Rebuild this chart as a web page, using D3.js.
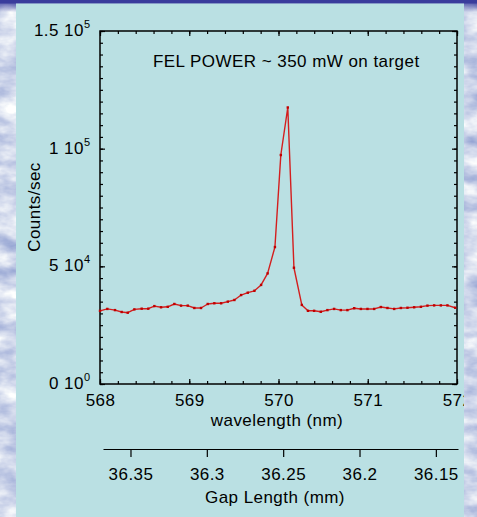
<!DOCTYPE html>
<html>
<head>
<meta charset="utf-8">
<script src="https://cdn.jsdelivr.net/npm/d3@7"></script>
<style>
  body { margin: 0; }
  svg text {
    font-family: "Liberation Sans", Arial, Helvetica, sans-serif;
    font-size: 17px;
    letter-spacing: 0.45px;
    fill: #000;
  }
</style>
</head>
<body>
<div id="container"></div>
<script>
// Data
const wavelength = [
  568.0, 568.082, 568.168, 568.243, 568.311, 568.385, 568.467, 568.541, 568.609,
  568.684, 568.759, 568.833, 568.908, 568.983, 569.057, 569.132, 569.207, 569.281,
  569.357, 569.432, 569.506, 569.581, 569.656, 569.73, 569.805, 569.878, 569.96,
  570.026, 570.104, 570.173, 570.261, 570.33, 570.399, 570.474, 570.548, 570.623,
  570.698, 570.772, 570.848, 570.923, 570.997, 571.072, 571.147, 571.221, 571.296,
  571.371, 571.445, 571.52, 571.595, 571.669, 571.744, 571.819, 571.893, 571.98
];
const counts = [
  31100, 31900, 31400, 30600, 30300, 31700, 32000, 32000, 33100,
  32600, 32800, 34000, 33300, 33300, 32300, 32300, 34000, 34300,
  34300, 35000, 35700, 37800, 38800, 39600, 42100, 47000, 58200,
  97300, 117500, 49400, 33600, 31100, 31100, 30700, 31400, 31900,
  31400, 31400, 32200, 31900, 31900, 31900, 32700, 32300, 31900,
  32300, 32400, 32600, 32800, 33300, 33400, 33400, 33400, 32400
];
const wavelengthTicks = [568, 569, 570, 571, 572];
const countTicks = [0, 50000, 100000, 150000];
const countMantissa = ["0", "5", "1", "1.5"];
const countExponent = ["0", "4", "5", "5"];
const gapTicks = [36.35, 36.3, 36.25, 36.2, 36.15];
const gapTickLabels = ["36.35", "36.3", "36.25", "36.2", "36.15"];
const annotation = "FEL POWER ~ 350 mW on target";

// Constants
const width = 477;
const height = 517;
const plotLeft = 100, plotRight = 457, plotTop = 31, plotBottom = 384;
const gapY = 449;

// Scales
const x = d3.scaleLinear().domain([568, 572]).range([plotLeft, plotRight]);
const y = d3.scaleLinear().domain([0, 150000]).range([plotBottom, plotTop]);
const gap = d3.scaleLinear().domain([36.368, 36.1355]).range([103, 458]);

const svg = d3
  .select("#container")
  .append("svg")
  .attr("width", width)
  .attr("height", height)
  .style("display", "block");

const defs = svg.append("defs");

// cloudy backdrop
const filter = defs.append("filter")
  .attr("id", "clouds")
  .attr("x", 0).attr("y", 0).attr("width", "100%").attr("height", "100%")
  .attr("color-interpolation-filters", "sRGB");
filter.append("feTurbulence")
  .attr("type", "fractalNoise")
  .attr("baseFrequency", "0.03 0.06")
  .attr("numOctaves", 4)
  .attr("seed", 3);
filter.append("feColorMatrix")
  .attr("type", "matrix")
  .attr("values", "0.62 0 0 0 0.5  0.54 0 0 0 0.57  0.26 0 0 0 0.79  0 0 0 0 1");

const topGrad = defs.append("linearGradient")
  .attr("id", "topbar").attr("x1", 0).attr("y1", 0).attr("x2", 0).attr("y2", 1);
topGrad.append("stop").attr("offset", "0%").attr("stop-color", "#3a3c9c").attr("stop-opacity", 1);
topGrad.append("stop").attr("offset", "100%").attr("stop-color", "#3a3c9c").attr("stop-opacity", 0);

defs.append("clipPath").attr("id", "panelClip")
  .append("rect").attr("x", 16).attr("y", 0).attr("width", 448).attr("height", height);

svg.append("rect")
  .attr("width", width).attr("height", height)
  .attr("filter", "url(#clouds)");
svg.append("rect")
  .attr("width", width).attr("height", 12)
  .attr("fill", "url(#topbar)");
svg.append("rect")
  .attr("width", width).attr("height", 3.5)
  .attr("fill", "#3a3c9c");

// panel
svg.append("rect")
  .attr("x", 16).attr("y", 3.5)
  .attr("width", 448).attr("height", height - 3.5)
  .attr("fill", "#bae0e3");

const chart = svg.append("g").attr("clip-path", "url(#panelClip)");

// Axes: minor ticks, then major ticks (all pointing inward)
const minorX = x.ticks(20);
const minorY = y.ticks(30);

const noDomain = (g) => g.select(".domain").remove();

chart.append("g").attr("transform", `translate(0,${plotBottom})`)
  .call(d3.axisBottom(x).tickValues(minorX).tickSize(-3).tickFormat(""))
  .call(noDomain);
chart.append("g").attr("transform", `translate(0,${plotBottom})`)
  .call(d3.axisBottom(x).tickValues(wavelengthTicks).tickSize(-5).tickPadding(10).tickFormat(d3.format("d")))
  .call(noDomain);
chart.append("g").attr("transform", `translate(0,${plotTop})`)
  .call(d3.axisTop(x).tickValues(minorX).tickSize(-3).tickFormat(""))
  .call(noDomain);
chart.append("g").attr("transform", `translate(0,${plotTop})`)
  .call(d3.axisTop(x).tickValues(wavelengthTicks).tickSize(-5).tickFormat(""))
  .call(noDomain);

chart.append("g").attr("transform", `translate(${plotLeft},0)`)
  .call(d3.axisLeft(y).tickValues(minorY).tickSize(-3).tickFormat(""))
  .call(noDomain);
chart.append("g").attr("transform", `translate(${plotLeft},0)`)
  .call(d3.axisLeft(y).tickValues(countTicks).tickSize(-5).tickFormat(""))
  .call(noDomain);
chart.append("g").attr("transform", `translate(${plotRight},0)`)
  .call(d3.axisRight(y).tickValues(minorY).tickSize(-3).tickFormat(""))
  .call(noDomain);
chart.append("g").attr("transform", `translate(${plotRight},0)`)
  .call(d3.axisRight(y).tickValues(countTicks).tickSize(-5).tickFormat(""))
  .call(noDomain);

chart.selectAll("g").attr("font-size", null).attr("font-family", null);
chart.selectAll(".tick line").attr("stroke", "#000").attr("stroke-width", 1.2);
chart.selectAll(".tick text").attr("fill", "#000");

// y tick labels like "1.5 10^5"
const yLabels = chart.append("g")
  .selectAll("text")
  .data(countTicks)
  .enter()
  .append("text")
  .attr("x", 90)
  .attr("y", (d) => y(d) + 5)
  .attr("text-anchor", "end");
yLabels.append("tspan").text((d, i) => countMantissa[i] + " 10");
yLabels.append("tspan")
  .attr("dy", -8)
  .style("font-size", "11px")
  .style("letter-spacing", "0px")
  .text((d, i) => countExponent[i]);

// frame
chart.append("rect")
  .attr("x", plotLeft).attr("y", plotTop)
  .attr("width", plotRight - plotLeft).attr("height", plotBottom - plotTop)
  .attr("fill", "none")
  .attr("stroke", "#000")
  .attr("stroke-width", 1.5);

// data line + markers
const line = d3.line()
  .x((d, i) => x(wavelength[i]))
  .y((d) => y(d));

chart.append("path")
  .datum(counts)
  .attr("d", line)
  .attr("fill", "none")
  .attr("stroke", "#d41e1e")
  .attr("stroke-width", 1.4)
  .attr("stroke-linejoin", "round");

chart.selectAll(".pt")
  .data(counts)
  .enter()
  .append("rect")
  .attr("class", "pt")
  .attr("x", (d, i) => x(wavelength[i]) - 1.2)
  .attr("y", (d) => y(d) - 1.2)
  .attr("width", 2.4)
  .attr("height", 2.4)
  .attr("fill", "#c00000");

// Titles
chart.append("text")
  .attr("x", 277).attr("y", 426)
  .attr("text-anchor", "middle")
  .text("wavelength (nm)");

chart.append("text")
  .attr("transform", "translate(39.5,207) rotate(-90)")
  .attr("text-anchor", "middle")
  .text("Counts/sec");

chart.append("text")
  .attr("x", 153).attr("y", 67)
  .text(annotation);

// Gap length axis
const gapAxis = chart.append("g")
  .attr("transform", `translate(0,${gapY})`)
  .call(d3.axisBottom(gap).tickValues(gapTicks).tickSize(8).tickSizeOuter(0).tickPadding(11)
    .tickFormat((d, i) => gapTickLabels[i]))
  .attr("font-size", null)
  .attr("font-family", null);
gapAxis.select(".domain").attr("stroke", "#000").attr("stroke-width", 1.2);
gapAxis.selectAll(".tick line").attr("stroke", "#000").attr("stroke-width", 1.2);
gapAxis.selectAll(".tick text").attr("fill", "#000");

chart.append("text")
  .attr("x", 275).attr("y", 503)
  .attr("text-anchor", "middle")
  .text("Gap Length (mm)");
</script>
</body>
</html>
